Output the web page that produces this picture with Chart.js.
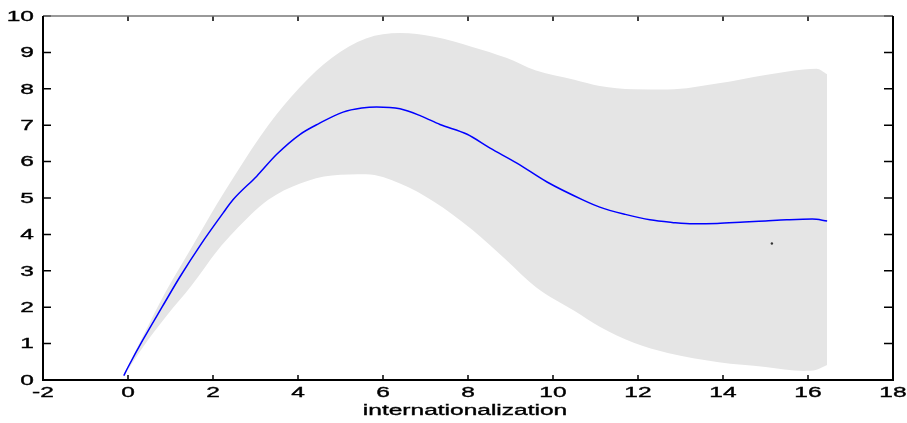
<!DOCTYPE html>
<html>
<head>
<meta charset="utf-8">
<script src="https://cdn.jsdelivr.net/npm/chart.js@4"></script>
<style>
  html, body { margin: 0; padding: 0; background: #fff; }
  #wrap { width: 907px; height: 423px; }
</style>
</head>
<body>
<div id="wrap"><canvas id="mainChart" width="907" height="423"></canvas></div>
<script>
// fitted curve
const lineX = [-0.1, 0, 0.35, 0.8, 1.22, 1.7, 2.24, 2.47, 3.03, 3.5, 4.05, 4.5, 5.06, 5.5, 5.85, 6.4, 6.9, 7.34, 7.98, 8.52, 9.15, 9.86, 10.7, 11.1, 11.7, 12.28, 12.8, 13.3, 13.86, 14.5, 15.0, 15.5, 16.1, 16.45];
const lineY = [0.12, 0.35, 1.1, 2.0, 2.83, 3.7, 4.59, 4.95, 5.6, 6.2, 6.75, 7.05, 7.36, 7.47, 7.5, 7.45, 7.25, 7.02, 6.75, 6.37, 5.96, 5.44, 4.95, 4.75, 4.55, 4.4, 4.33, 4.29, 4.3, 4.34, 4.37, 4.4, 4.42, 4.37];

// confidence band
const bandX = [-0.1, 0.35, 0.9, 1.5, 2.1, 2.5, 3.3, 4.05, 4.8, 5.6, 6.4, 7.2, 8.1, 8.9, 9.6, 10.5, 11.1, 11.9, 12.7, 13.9, 15.0, 15.9, 16.2, 16.45];
const bandUpper = [0.15, 1.2, 2.45, 3.65, 4.85, 5.6, 7.0, 8.05, 8.85, 9.38, 9.53, 9.43, 9.15, 8.85, 8.5, 8.25, 8.08, 7.99, 7.98, 8.15, 8.38, 8.53, 8.55, 8.4];
const bandLower = [0.1, 0.9, 1.75, 2.6, 3.55, 4.08, 4.95, 5.4, 5.62, 5.65, 5.4, 4.9, 4.13, 3.3, 2.55, 1.9, 1.46, 1.02, 0.74, 0.49, 0.36, 0.25, 0.28, 0.41];

// stray mark in the plot
const markX = [15.15];
const markY = [3.75];

const xTitle = 'internationalization';

const pts = (xs, ys) => xs.map((x, i) => ({ x: x, y: ys[i] }));

// the original text is stretched sideways
const STRETCH = 1.75;
const FONT = '14px "Liberation Sans", Arial, sans-serif';

function wideText(ctx, text, x, y, align, baseline) {
  ctx.save();
  ctx.translate(x, y);
  ctx.scale(STRETCH, 1);
  ctx.textAlign = align;
  ctx.textBaseline = baseline;
  ctx.fillText(text, 0, 0);
  ctx.strokeText(text, 0, 0);
  ctx.restore();
}

const frame = {
  id: 'frame',
  afterDraw(chart) {
    const { ctx, chartArea: a, scales } = chart;
    ctx.save();
    // inward ticks
    ctx.strokeStyle = '#000';
    ctx.lineWidth = 1.5;
    scales.x.ticks.forEach(t => {
      const px = scales.x.getPixelForValue(t.value);
      ctx.beginPath();
      ctx.moveTo(px, a.bottom); ctx.lineTo(px, a.bottom - 5);
      ctx.moveTo(px, a.top); ctx.lineTo(px, a.top + 5);
      ctx.stroke();
    });
    scales.y.ticks.forEach(t => {
      const py = scales.y.getPixelForValue(t.value);
      ctx.beginPath();
      ctx.moveTo(a.left, py); ctx.lineTo(a.left + 8, py);
      ctx.moveTo(a.right, py); ctx.lineTo(a.right - 9, py);
      ctx.stroke();
    });
    // box
    ctx.lineWidth = 1.5;
    ctx.strokeStyle = '#777';
    ctx.beginPath();
    ctx.moveTo(a.left, a.top); ctx.lineTo(a.right, a.top);
    ctx.stroke();
    ctx.lineWidth = 2;
    ctx.strokeStyle = '#000';
    ctx.beginPath();
    ctx.moveTo(a.left, a.top); ctx.lineTo(a.left, a.bottom); ctx.lineTo(a.right, a.bottom); ctx.lineTo(a.right, a.top);
    ctx.stroke();

    // labels
    ctx.fillStyle = '#000';
    ctx.strokeStyle = '#000';
    ctx.lineWidth = 0.35;
    ctx.font = FONT;
    scales.x.ticks.forEach(t => {
      wideText(ctx, String(t.value), scales.x.getPixelForValue(t.value), a.bottom + 13, 'center', 'middle');
    });
    scales.y.ticks.forEach(t => {
      wideText(ctx, String(t.value), a.left - 9, scales.y.getPixelForValue(t.value) + 1, 'right', 'middle');
    });
    wideText(ctx, xTitle, (a.left + a.right) / 2 - 3, a.bottom + 35, 'center', 'alphabetic');
    ctx.restore();
  }
};

new Chart(document.getElementById('mainChart').getContext('2d'), {
  type: 'line',
  data: {
    datasets: [
      {
        data: pts(lineX, lineY),
        borderColor: '#0000ff',
        borderWidth: 1.5,
        pointRadius: 0,
        cubicInterpolationMode: 'monotone',
        fill: false,
        order: 0
      },
      {
        data: pts(markX, markY),
        showLine: false,
        pointRadius: 1.2,
        pointBackgroundColor: '#333',
        pointBorderWidth: 0,
        order: 0
      },
      {
        data: pts(bandX, bandUpper),
        borderWidth: 0,
        borderColor: 'rgba(0,0,0,0)',
        backgroundColor: '#e5e5e5',
        pointRadius: 0,
        cubicInterpolationMode: 'monotone',
        fill: '+1',
        order: 2
      },
      {
        data: pts(bandX, bandLower),
        borderWidth: 0,
        borderColor: 'rgba(0,0,0,0)',
        pointRadius: 0,
        cubicInterpolationMode: 'monotone',
        fill: false,
        order: 3
      }
    ]
  },
  options: {
    responsive: false,
    animation: false,
    layout: { padding: { top: 16, right: 14, left: 0, bottom: 0 } },
    plugins: {
      legend: { display: false },
      tooltip: { enabled: false }
    },
    scales: {
      x: {
        type: 'linear',
        min: -2, max: 18,
        grid: { display: false },
        border: { display: false },
        ticks: { stepSize: 2, display: false },
        afterFit(s) { s.height = 43; }
      },
      y: {
        type: 'linear',
        min: 0, max: 10,
        grid: { display: false },
        border: { display: false },
        ticks: { stepSize: 1, display: false },
        afterFit(s) { s.width = 43; }
      }
    }
  },
  plugins: [frame]
});
</script>
</body>
</html>
